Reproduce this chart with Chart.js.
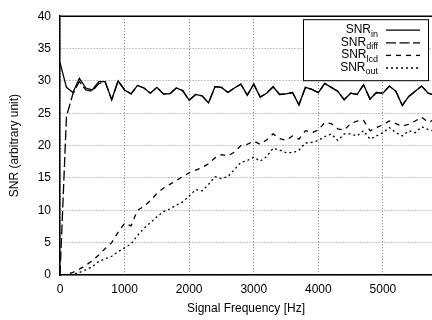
<!DOCTYPE html>
<html>
<head>
<meta charset="utf-8">
<script src="https://cdn.jsdelivr.net/npm/chart.js@4/dist/chart.umd.min.js"></script>
<style>
html, body { margin: 0; padding: 0; background: #fff; }
#wrap { width: 432px; height: 320px; overflow: hidden; }
</style>
</head>
<body>
<div id="wrap"><canvas id="snrChart" width="432" height="320"></canvas></div>
<script>
// frequency axis (Hz)
var freq = [0, 100, 200, 300, 400, 500, 600, 700, 800, 900,
    1000, 1100, 1200, 1300, 1400, 1500, 1600, 1700, 1800, 1900,
    2000, 2100, 2200, 2300, 2400, 2500, 2600, 2700, 2800, 2900,
    3000, 3100, 3200, 3300, 3400, 3500, 3600, 3700, 3800, 3900,
    4000, 4100, 4200, 4300, 4400, 4500, 4600, 4700, 4800, 4900,
    5000, 5100, 5200, 5300, 5400, 5500, 5600, 5700, 5800];

var xTicks = [0, 1000, 2000, 3000, 4000, 5000];
var yTicks = [0, 5, 10, 15, 20, 25, 30, 35, 40];

var snrIn = [32.8, 29.0, 28.2, 30.4, 28.9, 28.6, 29.9, 29.9, 27.1, 30.0,
    28.6, 28.0, 29.3, 28.9, 28.1, 29.0, 28.0, 28.0, 28.9, 28.5,
    27.0, 27.9, 27.7, 26.6, 29.1, 29.0, 28.2, 28.9, 29.5, 27.8,
    29.5, 27.5, 28.1, 29.1, 27.9, 28.0, 28.2, 26.3, 29.0, 28.7,
    28.2, 29.6, 29.0, 28.4, 27.1, 28.1, 27.9, 29.4, 27.2, 28.2,
    28.1, 29.2, 28.4, 26.2, 27.6, 28.4, 29.2, 28.1, 27.8];

var snrDiff = [0.0, 24.5, 28.0, 29.9, 28.6, 28.4, 29.6, 29.8, 27.1, 30.0,
    28.6, 28.0, 29.3, 28.9, 28.1, 29.0, 28.0, 28.0, 28.9, 28.5,
    27.0, 27.9, 27.7, 26.6, 29.1, 29.0, 28.2, 28.9, 29.5, 27.8,
    29.5, 27.5, 28.1, 29.1, 27.9, 28.0, 28.2, 26.3, 29.0, 28.7,
    28.2, 29.6, 29.0, 28.4, 27.1, 28.1, 27.9, 29.4, 27.2, 28.2,
    28.1, 29.2, 28.4, 26.2, 27.6, 28.4, 29.2, 28.1, 27.8];

var snrLcd = [0.0, 0.1, 0.4, 0.9, 1.5, 2.2, 3.1, 4.1, 5.0, 6.6,
    8.0, 7.6, 10.0, 10.6, 11.5, 12.6, 13.4, 14.0, 14.6, 15.2,
    15.8, 16.2, 16.6, 17.2, 18.1, 18.6, 18.4, 19.0, 20.0, 20.2,
    20.7, 20.2, 20.9, 21.8, 21.1, 20.8, 21.5, 21.0, 22.3, 22.0,
    22.4, 23.6, 23.4, 22.6, 22.4, 23.4, 23.8, 23.9, 22.3, 22.8,
    23.2, 23.8, 23.4, 23.0, 23.3, 23.8, 24.4, 23.6, 24.0];

var snrOut = [0.0, 0.0, 0.1, 0.4, 0.8, 1.3, 2.1, 2.5, 2.9, 3.6,
    4.2, 4.8, 6.1, 7.2, 8.1, 9.0, 9.8, 10.2, 10.8, 11.3,
    12.2, 13.2, 13.0, 14.0, 15.2, 14.9, 15.2, 16.3, 17.4, 17.7,
    18.2, 17.6, 18.3, 19.6, 19.3, 18.9, 18.9, 19.3, 20.4, 20.5,
    20.8, 21.4, 21.8, 20.8, 21.8, 21.8, 21.5, 22.3, 21.0, 21.5,
    22.0, 22.8, 22.0, 21.5, 22.3, 22.0, 22.9, 22.5, 22.2];

var subs = ['in', 'diff', 'lcd', 'out'];

function pts(vals) {
    return freq.map(function (f, i) { return { x: f, y: vals[i] }; });
}

var fontFam = '"Liberation Sans", Arial, Helvetica, sans-serif';
Chart.defaults.font.family = fontFam;
Chart.defaults.font.size = 12;
Chart.defaults.color = '#000';

// gnuplot-style legend box with subscripts, plus the top frame line
var legendBox = {
    id: 'legendBox',
    afterDatasetsDraw: function (chart) {
        var ctx = chart.ctx, area = chart.chartArea;
        ctx.save();
        ctx.strokeStyle = '#000';
        ctx.lineWidth = 1.5;
        ctx.beginPath();
        ctx.moveTo(area.left, area.top);
        ctx.lineTo(area.right, area.top);
        ctx.stroke();

        var w = 125, h = 61;
        var x0 = area.right - 4 - w, y0 = area.top + 3;
        ctx.fillStyle = '#fff';
        ctx.fillRect(x0, y0, w, h);
        ctx.lineWidth = 1;
        ctx.strokeRect(x0 + 0.5, y0 + 0.5, w, h);

        chart.data.datasets.forEach(function (ds, i) {
            var cy = y0 + 10.5 + i * 12.6;
            var tx = x0 + 75;
            ctx.fillStyle = '#000';
            ctx.textAlign = 'right';
            ctx.textBaseline = 'middle';
            ctx.font = '9px ' + fontFam;
            var sw = ctx.measureText(subs[i]).width;
            ctx.fillText(subs[i], tx, cy + 4.5);
            ctx.font = '12px ' + fontFam;
            ctx.fillText('SNR', tx - sw, cy);
            ctx.beginPath();
            ctx.setLineDash(ds.borderDash || []);
            ctx.lineWidth = ds.borderWidth;
            ctx.moveTo(x0 + 83, cy + 0.5);
            ctx.lineTo(x0 + 117, cy + 0.5);
            ctx.stroke();
            ctx.setLineDash([]);
        });
        ctx.restore();
    }
};

function setTicks(list) {
    return function (scale) {
        scale.ticks = list.map(function (v) { return { value: v }; });
    };
}

var ctx = document.getElementById('snrChart');
var chart = new Chart(ctx, {
    type: 'line',
    data: {
        datasets: [{
            label: 'SNR_in',
            data: pts(snrIn),
            borderColor: '#000',
            borderWidth: 1.3,
            borderDash: []
        }, {
            label: 'SNR_diff',
            data: pts(snrDiff),
            borderColor: '#000',
            borderWidth: 1.3,
            borderDash: [10, 3.5]
        }, {
            label: 'SNR_lcd',
            data: pts(snrLcd),
            borderColor: '#000',
            borderWidth: 1.3,
            borderDash: [5, 5]
        }, {
            label: 'SNR_out',
            data: pts(snrOut),
            borderColor: '#000',
            borderWidth: 1.3,
            borderDash: [2, 3]
        }]
    },
    options: {
        responsive: false,
        animation: false,
        layout: { padding: { top: 11, right: 0, left: 0, bottom: 0 } },
        elements: { point: { radius: 0 }, line: { tension: 0, fill: false } },
        plugins: { legend: { display: false }, tooltip: { enabled: false } },
        scales: {
            x: {
                type: 'linear',
                min: 0,
                max: 5760,
                afterBuildTicks: setTicks(xTicks),
                ticks: { padding: 7, maxRotation: 0, autoSkip: false,
                    callback: function (v) { return String(v); } },
                grid: { color: '#777', lineWidth: 1, drawTicks: false },
                border: { color: '#000', width: 1.5, dash: [1, 2] },
                title: { display: true, text: 'Signal Frequency [Hz]', padding: { top: 2, bottom: 4 } },
                afterFit: function (scale) { scale.height = 45; }
            },
            y: {
                min: 0,
                max: 40,
                afterBuildTicks: setTicks(yTicks),
                ticks: { padding: 9, callback: function (v) { return String(v); } },
                grid: { color: '#888', lineWidth: 1, drawTicks: false },
                border: { color: '#000', width: 1.5, dash: [1, 2] },
                title: { display: true, text: 'SNR (arbitrary unit)', padding: { top: 7, bottom: 0 } },
                afterFit: function (scale) { scale.width = 60; }
            }
        }
    },
    plugins: [legendBox]
});
</script>
</body>
</html>
